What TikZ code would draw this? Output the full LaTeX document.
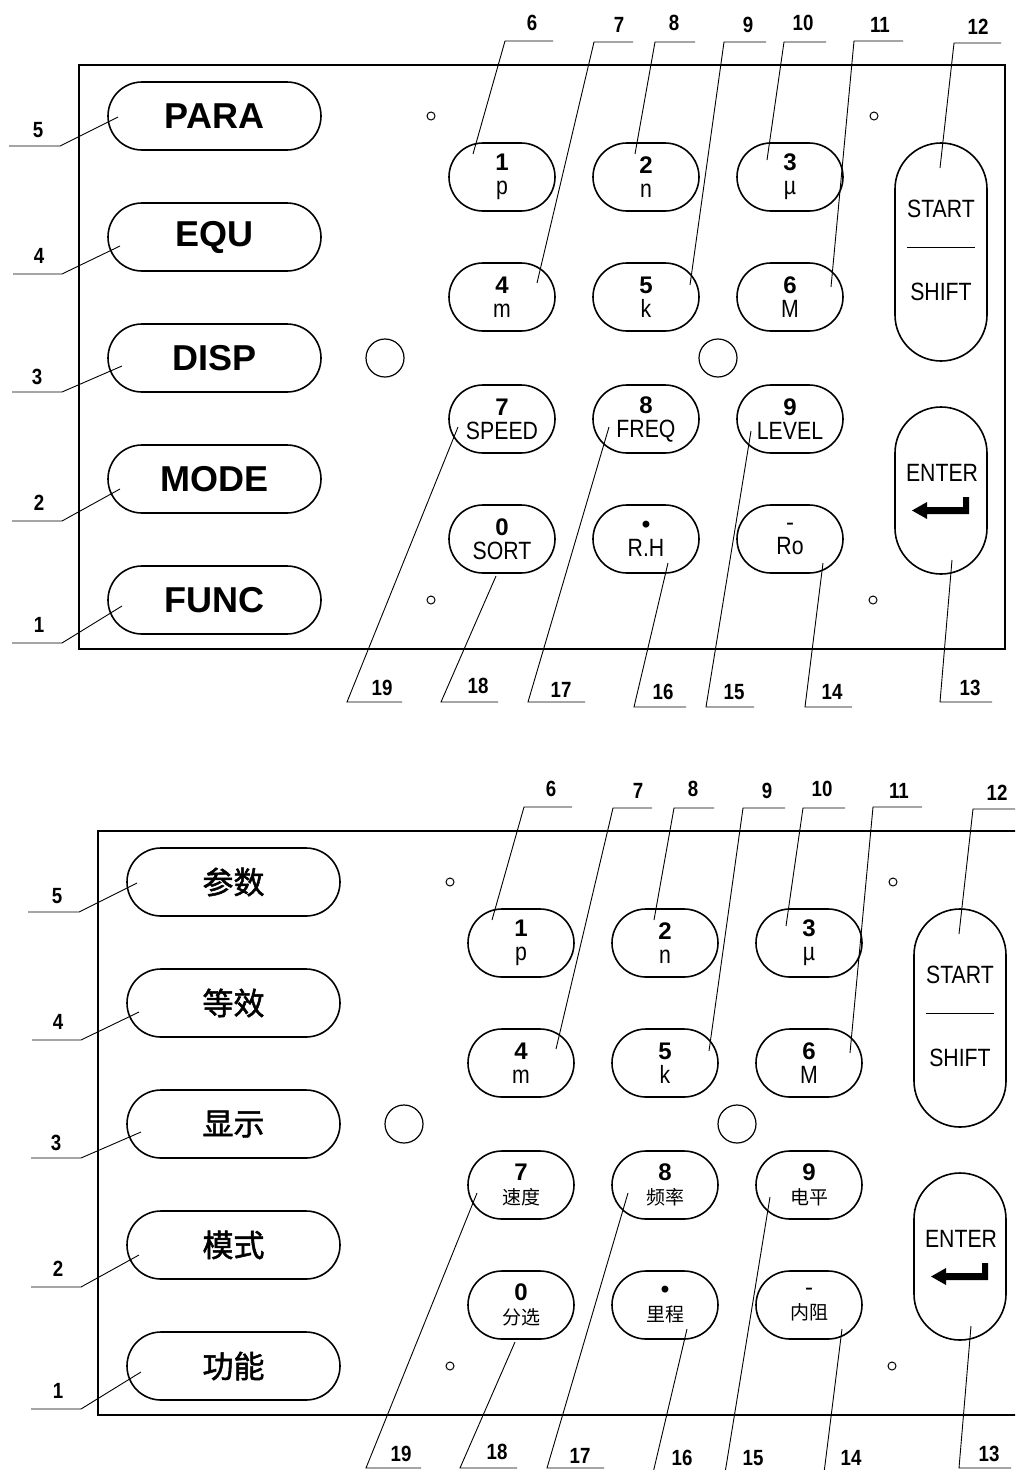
\documentclass[tikz,border=0pt]{standalone}
\usepackage{fontspec}
\setmainfont{Liberation Sans}
\newfontfamily\narrowfont[FakeStretch=0.85]{Liberation Sans}
\newfontfamily\cjk{Noto Sans CJK SC}
\newfontfamily\cjkmed[FakeBold=1.6]{Noto Sans CJK SC}
\tikzset{
  panelline/.style={draw=black, line width=1.5pt},
  bigkey/.style={draw, rectangle, rounded corners=34pt, line width=1.6pt, minimum width=213pt, minimum height=68pt, inner sep=0pt},
  numkey/.style={draw, rectangle, rounded corners=34pt, line width=1.6pt, minimum width=106pt, minimum height=68pt, inner sep=0pt, align=center, font=\fontsize{24}{24}\selectfont},
  tallkey/.style={draw, rectangle, rounded corners=46pt, line width=1.6pt, minimum width=92pt, inner sep=0pt},
  hole/.style={draw, circle, line width=1pt, minimum size=8pt, inner sep=0pt},
  bighole/.style={draw, circle, line width=1.2pt, minimum size=38pt, inner sep=0pt},
  leader/.style={draw, line width=0.9pt},
  num/.style={inner sep=0pt, font=\narrowfont\bfseries\fontsize{22}{22}\selectfont},
  keytext/.style={inner sep=0pt, font=\narrowfont\fontsize{25}{25}\selectfont},
}
\newcommand\dg[1]{{\bfseries #1}}
\newcommand\subl[1]{{\narrowfont\fontsize{25}{25}\selectfont #1}}
\newcommand\subc[1]{{\cjk\fontsize{19}{19}\selectfont #1}}
% leader: prefix, id, outer end, inner end, end in key, label position
\newcommand\ldr[6]{%
  \coordinate (#1o#2) at (#3);
  \coordinate (#1i#2) at (#4);
  \coordinate (#1e#2) at (#5);
  \draw[leader] (#1o#2) -- (#1i#2) -- (#1e#2);
  \node[num] (#1t#2) at (#6) {#2};
}
\newcommand\kbpanel[1]{%
  \draw[panelline] (79,65) rectangle (1005,649);
  % left keys
  \node[bigkey, font=\bigfont] (#1k5) at (214.5,116) {\tA};
  \node[bigkey, font=\bigfont] (#1k4) at (214.5,237) {\tB};
  \node[bigkey, font=\bigfont] (#1k3) at (214.5,358) {\tC};
  \node[bigkey, font=\bigfont] (#1k2) at (214.5,479) {\tD};
  \node[bigkey, font=\bigfont] (#1k1) at (214.5,600) {\tE};
  % holes
  \node[hole] (#1h1) at (431,116) {};
  \node[hole] (#1h2) at (874,116) {};
  \node[hole] (#1h3) at (431,600) {};
  \node[hole] (#1h4) at (873,600) {};
  \node[bighole] (#1H1) at (385,358) {};
  \node[bighole] (#1H2) at (718,358) {};
  % numeric keys
  \node[numkey] (#1n1) at (502,177) {\dg{1}\\\subl{p}};
  \node[numkey] (#1n2) at (646,177) {\dg{2}\\\subl{n}};
  \node[numkey] (#1n3) at (790,177) {\dg{3}\\\subl{µ}};
  \node[numkey] (#1n4) at (502,297) {\dg{4}\\\subl{m}};
  \node[numkey] (#1n5) at (646,297) {\dg{5}\\\subl{k}};
  \node[numkey] (#1n6) at (790,297) {\dg{6}\\\subl{M}};
  \node[numkey] (#1n7) at (502,419) {\dg{7}\\\sF};
  \node[numkey] (#1n8) at (646,419) {\dg{8}\\\sG};
  \node[numkey] (#1n9) at (790,419) {\dg{9}\\\sH};
  \node[numkey] (#1n0) at (502,539) {\dg{0}\\\sI};
  \node[numkey] (#1nd) at (646,539) {\dg{•}\\\sJ};
  \node[numkey] (#1nm) at (790,539) {-\\\sK};
  % start / shift
  \node[tallkey, minimum height=218pt] (#1st) at (941,252) {};
  \node[keytext] (#1stT) at (941,209) {START};
  \node[keytext] (#1shT) at (941,292) {SHIFT};
  \coordinate (#1sepA) at (907,247);
  \coordinate (#1sepB) at (975,247);
  \draw[line width=1pt] (#1sepA) -- (#1sepB);
  % enter
  \node[tallkey, minimum height=167pt] (#1en) at (941,490.5) {};
  \node[keytext] (#1enT) at (942,473) {ENTER};
  \fill (963,497) -- (969,497) -- (969,514) -- (927,514) -- (927,519) -- (912,510.5) -- (927,502) -- (927,507) -- (963,507) -- cycle;
  % left leaders
  \ldr{#1}{5}{9,146}{60,146}{118,117}{38,130}
  \ldr{#1}{4}{13,274}{62,274}{120,246}{39,256}
  \ldr{#1}{3}{12,392}{62,392}{122,366}{37,377}
  \ldr{#1}{2}{12,521}{62,521}{120,489}{39,503}
  \ldr{#1}{1}{12,643}{62,643}{122,606}{39,625}
  % top leaders
  \ldr{#1}{6}{553,41}{505,41}{473,154}{532,23}
  \ldr{#1}{7}{633,42}{594,42}{537,283}{619,25}
  \ldr{#1}{8}{695,42}{655,42}{635,154}{674,23}
  \ldr{#1}{9}{766,42}{724,42}{690,285}{748,25}
  \ldr{#1}{10}{826,42}{784,42}{767,160}{803,23}
  \ldr{#1}{11}{903,41}{854,41}{831,287}{880,25}
  \ldr{#1}{12}{1001,43}{954,43}{940,168}{978,27}
  % bottom leaders
  \ldr{#1}{19}{402,702}{347,702}{458,427}{382,688}
  \ldr{#1}{18}{498,702}{441,702}{496,576}{478,686}
  \ldr{#1}{17}{585,702}{528,702}{609,427}{561,690}
  \ldr{#1}{16}{686,707}{634,707}{668,563}{663,692}
  \ldr{#1}{15}{754,707}{706,707}{751,431}{734,692}
  \ldr{#1}{14}{852,707}{805,707}{823,563}{832,692}
  \ldr{#1}{13}{992,702}{940,702}{952,560}{970,688}
}
\begin{document}
\begin{tikzpicture}[x=1pt,y=-1pt]
\useasboundingbox (0,0) rectangle (1015,1470);
\clip (0,0) rectangle (1015,1470);
% upper panel (English)
\def\bigfont{\bfseries\fontsize{36}{40}\selectfont}
\def\tA{PARA}\def\tB{EQU}\def\tC{DISP}\def\tD{MODE}\def\tE{FUNC}
\def\sF{\subl{SPEED}}\def\sG{\subl{FREQ}}\def\sH{\subl{LEVEL}}
\def\sI{\subl{SORT}}\def\sJ{\subl{R.H}}\def\sK{\subl{Ro}}
\begin{scope}
\kbpanel{t}
\end{scope}
% lower panel (Chinese)
\def\bigfont{\cjkmed\fontsize{31}{36}\selectfont}
\def\tA{参数}\def\tB{等效}\def\tC{显示}\def\tD{模式}\def\tE{功能}
\def\sF{\subc{速度}}\def\sG{\subc{频率}}\def\sH{\subc{电平}}
\def\sI{\subc{分选}}\def\sJ{\subc{里程}}\def\sK{\subc{内阻}}
\begin{scope}[shift={(19,766)}]
\kbpanel{b}
\end{scope}
\end{tikzpicture}
\end{document}
